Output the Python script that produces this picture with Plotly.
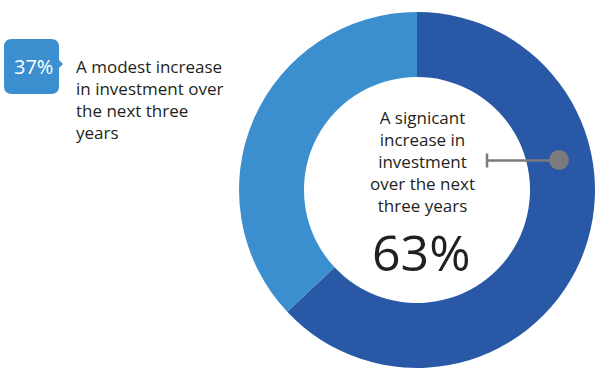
import plotly.graph_objects as go

W, H = 595, 377

labels = ["A signicant increase in investment over the next three years",
          "A modest increase in investment over the next three years"]
values = [63, 37]
colors = ["#2858a6", "#3b8fcf"]
center_label = "A signicant<br>increase in<br>investment<br>over the next<br>three years"
center_value = "63%"
side_label = "A modest increase<br>in investment over<br>the next three<br>years"
side_value = "37%"

def px(x):
    return x / W

def py(y):
    return 1 - y / H

# donut geometry (pixels)
cx, cy, R = 417, 190, 178

fig = go.Figure()
fig.add_trace(go.Pie(
    labels=labels, values=values, sort=False, direction="clockwise", rotation=0,
    hole=0.635, marker=dict(colors=colors, line=dict(width=0)),
    textinfo="none", hoverinfo="label+percent", showlegend=False,
    domain=dict(x=[px(cx - R), 1], y=[py(cy + R), py(cy - R)]),
))

font_family = "Open Sans, Lato, sans-serif"
txt_col = "#231f20"
grey = "#7b7b7b"

shapes = []
# connector inside the donut
shapes.append(dict(type="line", xref="paper", yref="paper",
                   x0=px(487), y0=py(160.5), x1=px(557), y1=py(160.5),
                   line=dict(color=grey, width=2.5)))
shapes.append(dict(type="line", xref="paper", yref="paper",
                   x0=px(487), y0=py(153.5), x1=px(487), y1=py(167.5),
                   line=dict(color=grey, width=2.5)))
shapes.append(dict(type="circle", xref="paper", yref="paper",
                   x0=px(549), y0=py(150), x1=px(569), y1=py(170),
                   fillcolor=grey, line=dict(width=0)))

# rounded label box with small pointer on the right
x0, x1, y0, y1, r = 4, 59, 39, 94, 8
pts = [
    ("M", x0 + r, y0), ("L", x1 - r, y0), ("Q", x1, y0, x1, y0 + r),
    ("L", x1, 60), ("L", 63, 64), ("L", x1, 68),
    ("L", x1, y1 - r), ("Q", x1, y1, x1 - r, y1),
    ("L", x0 + r, y1), ("Q", x0, y1, x0, y1 - r),
    ("L", x0, y0 + r), ("Q", x0, y0, x0 + r, y0),
]
path = ""
for p in pts:
    cmd = p[0]
    coords = p[1:]
    parts = []
    for i in range(0, len(coords), 2):
        parts.append(f"{px(coords[i]):.5f},{py(coords[i+1]):.5f}")
    path += cmd + " " + " ".join(parts) + " "
path += "Z"
shapes.append(dict(type="path", xref="paper", yref="paper", path=path,
                   fillcolor="#3b8fcf", line=dict(width=0)))

annotations = [
    dict(x=px(422), y=py(161), xref="paper", yref="paper", text=center_label,
         showarrow=False, xanchor="center", yanchor="middle", align="center",
         font=dict(family=font_family, size=17, color=txt_col, weight=500)),
    dict(x=px(421), y=py(251.5), xref="paper", yref="paper", text=center_value,
         showarrow=False, xanchor="center", yanchor="middle",
         font=dict(family=font_family, size=50, color=txt_col, weight=400)),
    dict(x=px(33), y=py(66), xref="paper", yref="paper", text=side_value,
         showarrow=False, xanchor="center", yanchor="middle",
         font=dict(family=font_family, size=20, color="white", weight=500)),
    dict(x=px(74), y=py(99.5), xref="paper", yref="paper", text=side_label,
         showarrow=False, xanchor="left", yanchor="middle", align="left",
         font=dict(family=font_family, size=17, color=txt_col, weight=500)),
]

fig.update_layout(
    width=W, height=H, margin=dict(l=0, r=0, t=0, b=0),
    paper_bgcolor="white", plot_bgcolor="white",
    shapes=shapes, annotations=annotations,
)

fig.write_html("out.html")
